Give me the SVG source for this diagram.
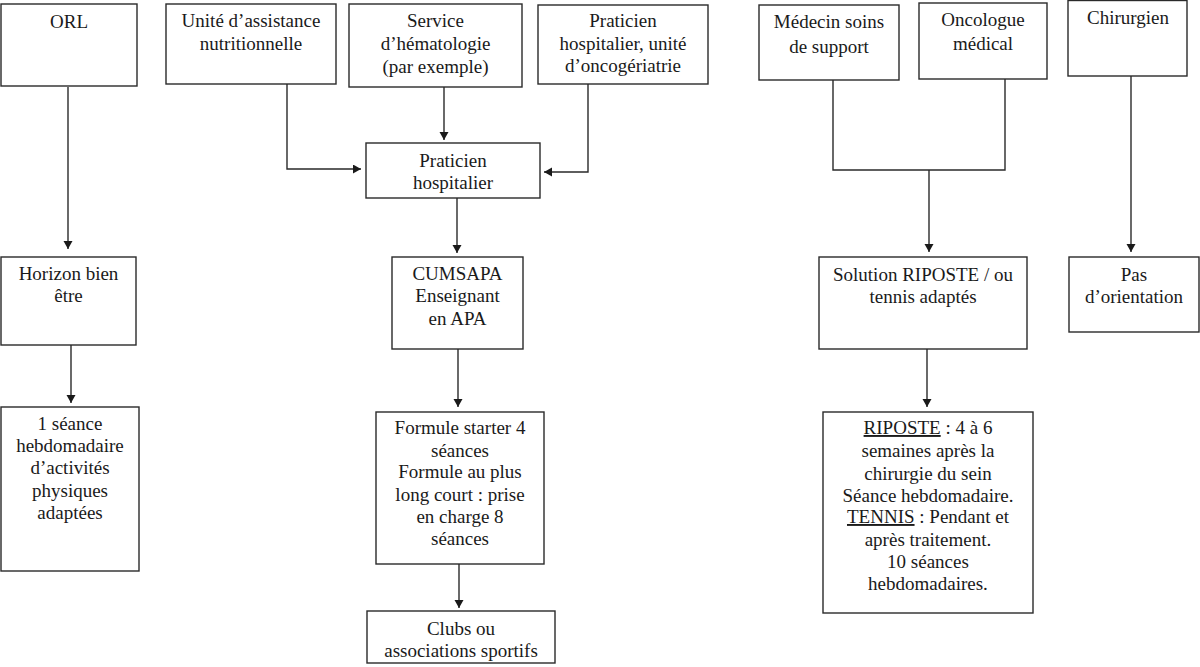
<svg xmlns="http://www.w3.org/2000/svg" width="1200" height="667" viewBox="0 0 1200 667">
<style>
  .box { fill: #ffffff; stroke: #2a2a2a; stroke-width: 1.4; }
  .t { font-family: 'Liberation Serif', Tinos, 'Times New Roman', Times, serif; font-size: 19px; fill: #1a1a1a; text-anchor: middle; }
  .c { fill: none; stroke: #2a2a2a; stroke-width: 1.4; }
  .u { text-decoration: underline; }
</style>
<defs>
  <marker id="ah" markerUnits="userSpaceOnUse" markerWidth="10" markerHeight="10" refX="8" refY="4.5" orient="auto">
    <path d="M0,0 L8,4.5 L0,9 z" fill="#1a1a1a"/>
  </marker>
</defs>
<rect width="1200" height="667" fill="#ffffff"/>

<g id="connectors">
  <path class="c" d="M68 87 V249" marker-end="url(#ah)"/>
  <path class="c" d="M71 345 V403" marker-end="url(#ah)"/>
  <path class="c" d="M287 84 V169 H361" marker-end="url(#ah)"/>
  <path class="c" d="M444 87 V140" marker-end="url(#ah)"/>
  <path class="c" d="M588 84 V172 H544" marker-end="url(#ah)"/>
  <path class="c" d="M457 198 V253" marker-end="url(#ah)"/>
  <path class="c" d="M458 349 V407" marker-end="url(#ah)"/>
  <path class="c" d="M459 564 V608" marker-end="url(#ah)"/>
  <path class="c" d="M833 80 V170 H1005 V79"/>
  <path class="c" d="M929 170 V252" marker-end="url(#ah)"/>
  <path class="c" d="M1131 76 V252" marker-end="url(#ah)"/>
  <path class="c" d="M927 349 V407" marker-end="url(#ah)"/>
</g>

<g id="orl">
  <rect class="box" x="1" y="4" width="136" height="82"/>
  <text class="t" x="69" y="28">ORL</text>
</g>
<g id="unite-nutrition">
  <rect class="box" x="166" y="4" width="170" height="80"/>
  <text class="t" x="251" y="27">Unité d’assistance</text>
  <text class="t" x="251" y="50">nutritionnelle</text>
</g>
<g id="service-hemato">
  <rect class="box" x="349" y="4" width="173" height="83"/>
  <text class="t" x="435.5" y="27">Service</text>
  <text class="t" x="435.5" y="50">d’hématologie</text>
  <text class="t" x="435.5" y="73">(par exemple)</text>
</g>
<g id="oncogeriatrie">
  <rect class="box" x="538" y="5" width="170" height="79"/>
  <text class="t" x="623" y="27">Praticien</text>
  <text class="t" x="623" y="50">hospitalier, unité</text>
  <text class="t" x="623" y="72">d’oncogériatrie</text>
</g>
<g id="praticien-hospitalier">
  <rect class="box" x="366" y="143" width="174" height="55"/>
  <text class="t" x="453" y="167">Praticien</text>
  <text class="t" x="453" y="189">hospitalier</text>
</g>
<g id="medecin-soins">
  <rect class="box" x="759" y="5" width="140" height="75"/>
  <text class="t" x="829" y="28">Médecin soins</text>
  <text class="t" x="829" y="53">de support</text>
</g>
<g id="oncologue">
  <rect class="box" x="919" y="3" width="128" height="76"/>
  <text class="t" x="983" y="26">Oncologue</text>
  <text class="t" x="983" y="50">médical</text>
</g>
<g id="chirurgien">
  <rect class="box" x="1068" y="0.5" width="119" height="75.5"/>
  <text class="t" x="1128" y="24">Chirurgien</text>
</g>
<g id="horizon">
  <rect class="box" x="1" y="257" width="135" height="88"/>
  <text class="t" x="68.5" y="280">Horizon bien</text>
  <text class="t" x="68.5" y="302">être</text>
</g>
<g id="seance">
  <rect class="box" x="1" y="407" width="138" height="164"/>
  <text class="t" x="70" y="430">1 séance</text>
  <text class="t" x="70" y="452">hebdomadaire</text>
  <text class="t" x="70" y="474">d’activités</text>
  <text class="t" x="70" y="497">physiques</text>
  <text class="t" x="70" y="519">adaptées</text>
</g>
<g id="cumsapa">
  <rect class="box" x="392" y="257" width="131" height="92"/>
  <text class="t" x="457.5" y="280">CUMSAPA</text>
  <text class="t" x="457.5" y="302">Enseignant</text>
  <text class="t" x="457.5" y="325">en APA</text>
</g>
<g id="formule">
  <rect class="box" x="376" y="412" width="168" height="152"/>
  <text class="t" x="460" y="434">Formule starter 4</text>
  <text class="t" x="460" y="457">séances</text>
  <text class="t" x="460" y="478">Formule au plus</text>
  <text class="t" x="460" y="501">long court : prise</text>
  <text class="t" x="460" y="523">en charge 8</text>
  <text class="t" x="460" y="545">séances</text>
</g>
<g id="clubs">
  <rect class="box" x="367" y="611" width="188" height="52"/>
  <text class="t" x="461" y="635">Clubs ou</text>
  <text class="t" x="461" y="657">associations sportifs</text>
</g>
<g id="solution">
  <rect class="box" x="819" y="257" width="208" height="92"/>
  <text class="t" x="923" y="281">Solution RIPOSTE / ou</text>
  <text class="t" x="923" y="303">tennis adaptés</text>
</g>
<g id="pas-orientation">
  <rect class="box" x="1069" y="257" width="130" height="75"/>
  <text class="t" x="1134" y="281">Pas</text>
  <text class="t" x="1134" y="303">d’orientation</text>
</g>
<g id="riposte">
  <rect class="box" x="823" y="412" width="210" height="201"/>
  <text class="t" x="928" y="434"><tspan class="u">RIPOSTE</tspan> : 4 à 6</text>
  <text class="t" x="928" y="457">semaines après la</text>
  <text class="t" x="928" y="480">chirurgie du sein</text>
  <text class="t" x="928" y="502">Séance hebdomadaire.</text>
  <text class="t" x="928" y="523"><tspan class="u">TENNIS</tspan> : Pendant et</text>
  <text class="t" x="928" y="546">après traitement.</text>
  <text class="t" x="928" y="568">10 séances</text>
  <text class="t" x="928" y="590">hebdomadaires.</text>
</g>
</svg>
